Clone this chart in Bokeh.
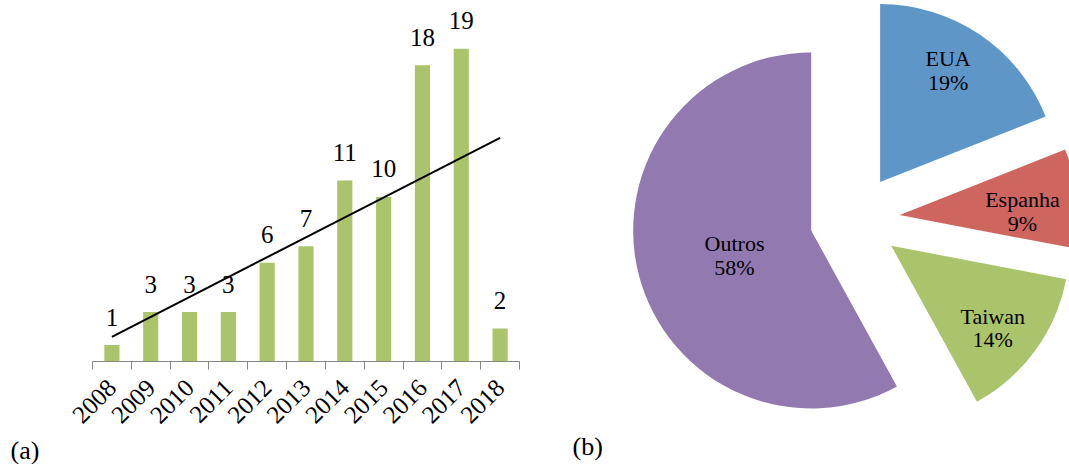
import numpy as np
from bokeh.plotting import figure
from bokeh.models import Range1d, FixedTicker, Label, Title, ColumnDataSource
from bokeh.layouts import row
from bokeh.embed import file_html
from bokeh.resources import INLINE
from bokeh.core.properties import value

# ---------------- data ----------------
years = ["2008", "2009", "2010", "2011", "2012", "2013", "2014", "2015", "2016", "2017", "2018"]
counts = [1, 3, 3, 3, 6, 7, 11, 10, 18, 19, 2]

countries = ["EUA", "Espanha", "Taiwan", "Outros"]
shares = [19, 9, 14, 58]

# ---------------- styles / layout constants ----------------
FONT = "Liberation Serif"
BAR_GREEN = "#AAC46C"
PIE_COLORS = ["#5F96C8", "#CE655F", "#AAC46C", "#9279B0"]
AXIS_GRAY = "#878787"
LABEL_R = [0.735, 0.69, 0.734, 0.453]   # label distance from slice tip, in radii
LABEL_DTHETA = [-2.9, 3.7, 3.0, -3.7]   # label angle tweak vs. slice bisector, degrees
EXPLODE = 0.253                         # slice offset, in radii

# ---------------- (a) bar chart ----------------
idx = list(range(len(years)))
pa = figure(width=548, height=464,
            x_range=Range1d(-0.5, len(years) - 0.5), y_range=Range1d(0, 21.93),
            y_axis_type=None, output_backend="svg", toolbar_location=None,
            min_border_left=92, min_border_right=29, min_border_top=0, min_border_bottom=100)
pa.frame_align = False
pa.outline_line_color = None
pa.xgrid.visible = False
pa.ygrid.visible = False

pa.vbar(x=idx, top=counts, width=0.39, fill_color=BAR_GREEN, line_color=None)

slope, intercept = np.polyfit(idx, counts, 1)
pa.line(x=[idx[0], idx[-1]], y=[intercept + slope * idx[0], intercept + slope * idx[-1]],
        line_color="black", line_width=2)

pa.text(x=idx, y=counts, text=[str(c) for c in counts], text_align="center",
        text_baseline="alphabetic", y_offset=-28, text_font=value(FONT),
        text_font_size="25px", text_color="black")

ax = pa.xaxis[0]
ax.ticker = FixedTicker(ticks=idx, minor_ticks=[i - 0.5 for i in idx] + [idx[-1] + 0.5])
ax.major_label_overrides = {i: y for i, y in zip(idx, years)}
ax.major_label_orientation = np.pi / 4
ax.major_tick_line_color = None
ax.major_tick_out = 0
ax.major_tick_in = 0
ax.minor_tick_line_color = AXIS_GRAY
ax.minor_tick_out = 8
ax.minor_tick_in = 0
ax.axis_line_color = AXIS_GRAY
ax.major_label_text_font = FONT
ax.major_label_text_font_size = "25px"
ax.major_label_text_color = "black"
ax.major_label_standoff = 14

pa.add_layout(Title(text="(a)", align="left", offset=-82, text_font=FONT,
                    text_font_size="26px", text_font_style="normal",
                    text_color="black", standoff=0), "below")

# ---------------- (b) exploded pie ----------------
frac = np.array(shares, dtype=float) / sum(shares)
ends = np.cumsum(frac) * 2 * np.pi          # clockwise from 12 o'clock
starts = ends - frac * 2 * np.pi
mids = (starts + ends) / 2
ox = EXPLODE * np.sin(mids)
oy = EXPLODE * np.cos(mids)
lang = mids + np.radians(LABEL_DTHETA)
lr = np.array(LABEL_R)
lx = ox + lr * np.sin(lang)
ly = oy + lr * np.cos(lang)

src = ColumnDataSource(dict(
    x=ox, y=oy, start=np.pi / 2 - starts, end=np.pi / 2 - ends, color=PIE_COLORS,
    lx=lx, ly=ly, label=[f"{c}\n{s}%" for c, s in zip(countries, shares)],
))

X0, X1, Y0, Y1 = -1.7208, 1.2062, -1.3775, 1.2292
pb = figure(width=521, height=464,
            x_range=Range1d(X0, X1), y_range=Range1d(Y0, Y1),
            x_axis_type=None, y_axis_type=None, output_backend="svg",
            toolbar_location=None, min_border=0)
pb.frame_align = False
pb.outline_line_color = None
pb.grid.visible = False

pb.wedge(x="x", y="y", radius=1.0, start_angle="start", end_angle="end",
         direction="clock", fill_color="color", line_color=None, source=src)
pb.text(x="lx", y="ly", text="label", text_align="center", text_baseline="middle",
        text_font=value(FONT), text_font_size="22px", text_color="black",
        text_line_height=0.95, source=src)

px = 521 / (X1 - X0)
pb.add_layout(Label(x=X0 + 24 / px, y=Y0 + 18 / px, text="(b)", text_font=FONT,
                    text_font_size="26px", text_color="black", text_baseline="alphabetic"))

layout = row(pa, pb)
open("out.html", "w").write(file_html(layout, INLINE))
